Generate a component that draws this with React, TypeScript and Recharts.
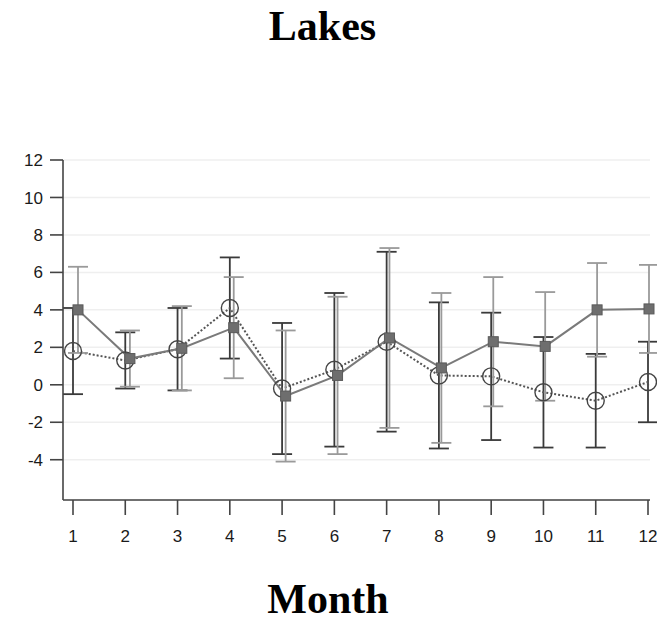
import React from "react";
import {
  ComposedChart,
  Line,
  XAxis,
  YAxis,
  CartesianGrid,
  ErrorBar,
} from "recharts";

const months = [1, 2, 3, 4, 5, 6, 7, 8, 9, 10, 11, 12];
const circleMean = [1.8, 1.3, 1.9, 4.1, -0.2, 0.8, 2.3, 0.5, 0.45, -0.4, -0.85, 0.15];
const circleErr = [2.3, 1.5, 2.2, 2.7, 3.5, 4.1, 4.8, 3.9, 3.4, 2.95, 2.5, 2.15];
const squareMean = [4.0, 1.4, 1.95, 3.05, -0.6, 0.5, 2.5, 0.9, 2.3, 2.05, 4.0, 4.05];
const squareErr = [2.3, 1.5, 2.25, 2.7, 3.5, 4.2, 4.8, 4.0, 3.45, 2.9, 2.5, 2.35];
const yTicks = [-4, -2, 0, 2, 4, 6, 8, 10, 12];
const title = "Lakes";
const xTitle = "Month";

const data = months.map((m, i) => ({
  month: m,
  circle: circleMean[i],
  circleErr: circleErr[i],
  square: squareMean[i],
  squareErr: squareErr[i],
}));

const SquareDot = (props: any) => {
  const { cx, cy, index } = props;
  if (cx == null || cy == null) return <g key={`sq-${index}`} />;
  return (
    <rect
      key={`sq-${index}`}
      x={cx - 5}
      y={cy - 5}
      width={10}
      height={10}
      fill="#6e6e6e"
      stroke="#5a5a5a"
      strokeWidth={1}
    />
  );
};

const CircleDot = (props: any) => {
  const { cx, cy, index } = props;
  if (cx == null || cy == null) return <g key={`ci-${index}`} />;
  return (
    <circle
      key={`ci-${index}`}
      cx={cx}
      cy={cy}
      r={8.5}
      fill="none"
      stroke="#444"
      strokeWidth={1.4}
    />
  );
};

const tickStyle = {
  fontFamily: "Liberation Sans, Arial, sans-serif",
  fontSize: 17,
  fill: "#1a1a1a",
};

export default function App() {
  return (
    <div
      style={{
        position: "fixed",
        left: 0,
        top: 0,
        width: 657,
        height: 624,
        background: "#fff",
      }}
    >
      <ComposedChart
        width={657}
        height={624}
        data={data}
        margin={{ top: 160, right: 7, bottom: 74, left: 0 }}
      >
        <CartesianGrid horizontal vertical={false} stroke="#efefef" strokeWidth={1.5} />
        <XAxis
          xAxisId="a"
          dataKey="month"
          type="number"
          domain={[1, 12]}
          ticks={months}
          padding={{ left: 10, right: 2 }}
          height={50}
          tickSize={15}
          tickMargin={15}
          tick={tickStyle}
          axisLine={{ stroke: "#444", strokeWidth: 1.6 }}
          tickLine={{ stroke: "#444", strokeWidth: 1.6 }}
          interval={0}
        />
        <XAxis
          xAxisId="b"
          dataKey="month"
          type="number"
          domain={[1, 12]}
          padding={{ left: 15, right: 1 }}
          hide
        />
        <YAxis
          type="number"
          domain={[-6.15, 12]}
          ticks={yTicks}
          width={63}
          tickSize={13}
          tickMargin={7}
          tick={tickStyle}
          axisLine={{ stroke: "#444", strokeWidth: 1.6 }}
          tickLine={{ stroke: "#444", strokeWidth: 1.6 }}
          interval={0}
        />
        <Line
          xAxisId="a"
          dataKey="circle"
          stroke="#555"
          strokeWidth={2}
          strokeDasharray="2 2"
          isAnimationActive={false}
          dot={CircleDot}
          activeDot={false}
        >
          <ErrorBar
            dataKey="circleErr"
            direction="y"
            width={10}
            stroke="#3a3a3a"
            strokeWidth={1.8}
            isAnimationActive={false}
          />
        </Line>
        <Line
          xAxisId="b"
          dataKey="square"
          stroke="#7a7a7a"
          strokeWidth={2}
          isAnimationActive={false}
          dot={SquareDot}
          activeDot={false}
        >
          <ErrorBar
            dataKey="squareErr"
            direction="y"
            width={10}
            stroke="#9a9a9a"
            strokeWidth={1.8}
            isAnimationActive={false}
          />
        </Line>
      </ComposedChart>
      <svg
        width={657}
        height={624}
        style={{ position: "absolute", left: 0, top: 0, pointerEvents: "none" }}
      >
        <text
          x={322.5}
          y={39.5}
          textAnchor="middle"
          fontFamily="Liberation Serif, Times New Roman, serif"
          fontWeight="bold"
          fontSize={42}
          fill="#000"
        >
          {title}
        </text>
        <text
          x={328}
          y={613}
          textAnchor="middle"
          fontFamily="Liberation Serif, Times New Roman, serif"
          fontWeight="bold"
          fontSize={42}
          fill="#000"
        >
          {xTitle}
        </text>
      </svg>
    </div>
  );
}
